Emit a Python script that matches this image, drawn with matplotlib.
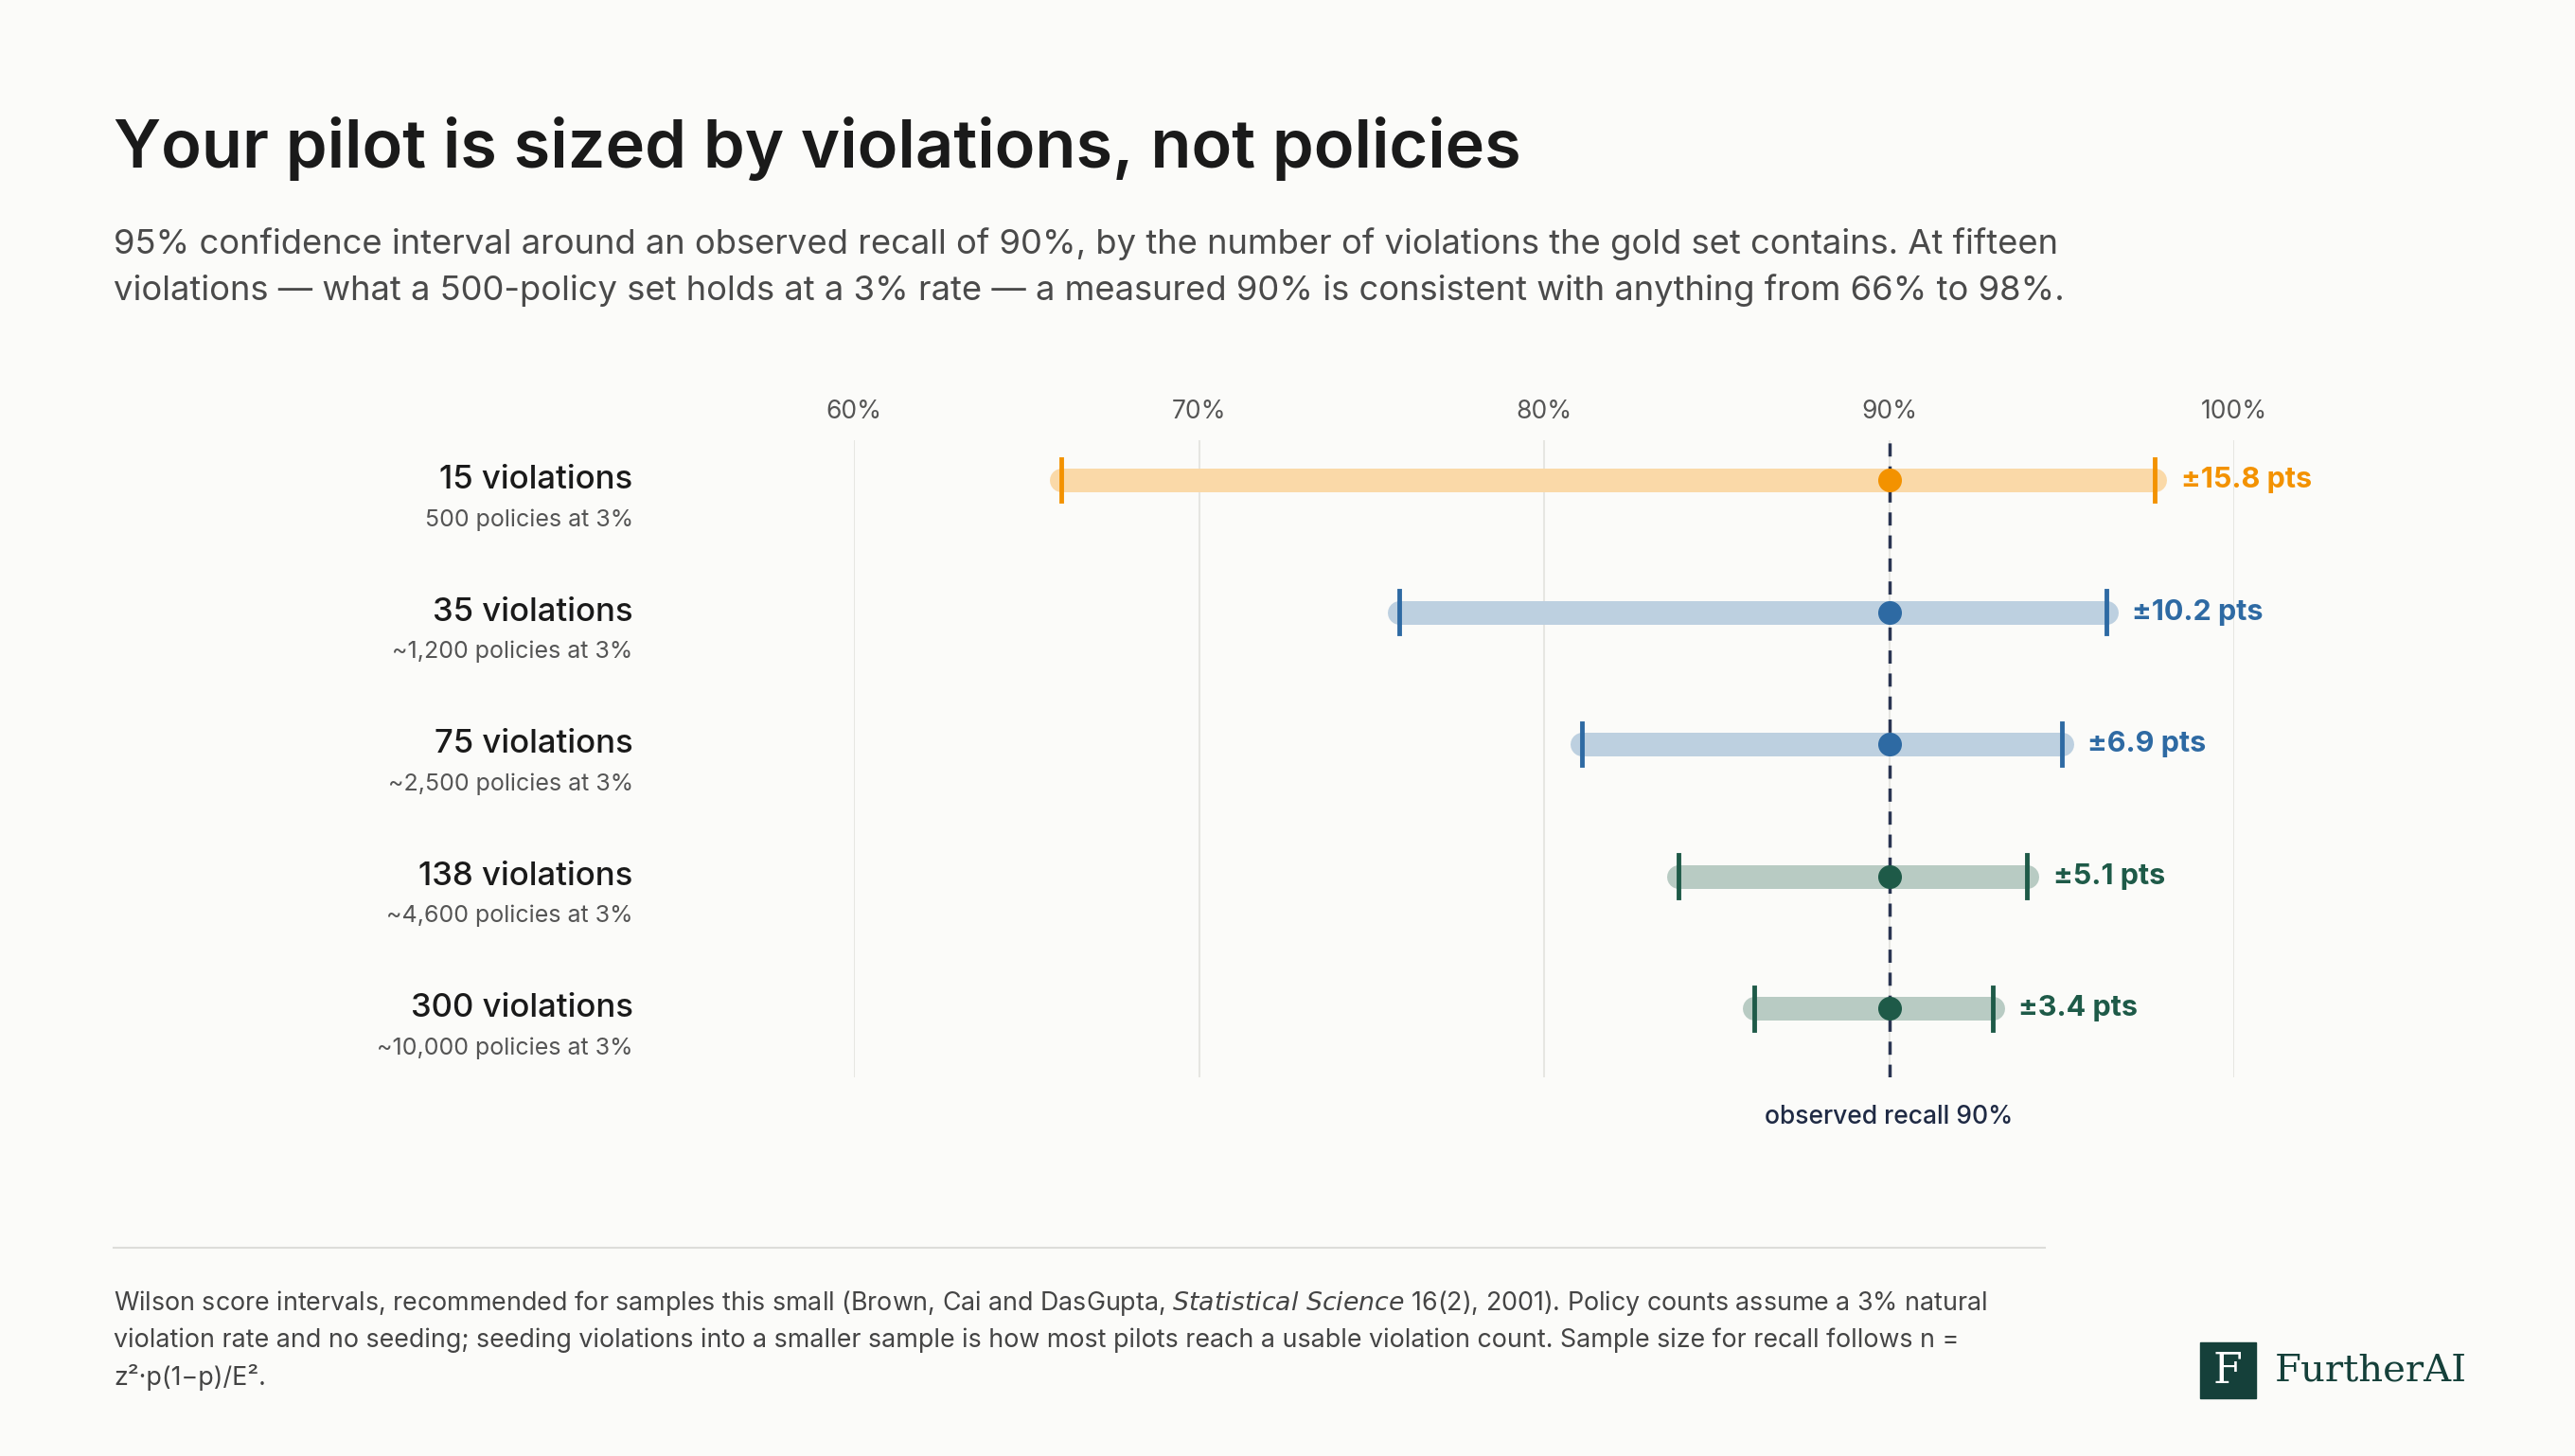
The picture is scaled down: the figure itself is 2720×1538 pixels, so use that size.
import matplotlib
matplotlib.use('Agg')
import matplotlib.pyplot as plt
from matplotlib.patches import Rectangle

# data
row_labels = ["15 violations", "35 violations", "75 violations", "138 violations", "300 violations"]
sub_labels = ["500 policies at 3%", "~1,200 policies at 3%", "~2,500 policies at 3%",
              "~4,600 policies at 3%", "~10,000 policies at 3%"]
lower = [66.0, 75.8, 81.1, 83.9, 86.1]
upper = [97.7, 96.3, 95.0, 94.0, 93.0]
observed = 90
margin_labels = ["±15.8 pts", "±10.2 pts", "±6.9 pts", "±5.1 pts", "±3.4 pts"]
ticks = [60, 70, 80, 90, 100]

BG = "#FBFBF9"
ORANGE, ORANGE_L = "#F39200", "#FAD9A8"
BLUE, BLUE_L = "#2E6AA3", "#BDD0E0"
GREEN, GREEN_L = "#1E5A48", "#B8CBC3"
dark_c = [ORANGE, BLUE, BLUE, GREEN, GREEN]
light_c = [ORANGE_L, BLUE_L, BLUE_L, GREEN_L, GREEN_L]
INK = "#1A1A1A"
GREY = "#555555"

plt.rcParams['font.family'] = ['Inter', 'DejaVu Sans']

W, H = 2720, 1538
fig = plt.figure(figsize=(W / 100, H / 100), dpi=100, facecolor=BG)

def fx(px):
    return px / W

def fy(py):
    return 1 - py / H

ax = fig.add_axes([fx(902), fy(1138), fx(2360 - 902), (1138 - 465) / H])
ax.set_facecolor(BG)
ax.set_xlim(60, 100)
ax.set_ylim(4.52, -0.3)
for s in ax.spines.values():
    s.set_visible(False)
ax.set_yticks([])
ax.set_xticks(ticks)
ax.set_xticklabels([f"{t}%" for t in ticks], fontsize=19, color=GREY)
ax.xaxis.set_ticks_position('top')
ax.tick_params(axis='x', length=0, pad=12)
for t in ticks:
    ax.axvline(t, color="#E6E6E2", lw=1.5, zorder=0)

ax.axvline(observed, color="#2A3552", lw=2.5, ls=(0, (4, 3)), zorder=4)

for i in range(len(lower)):
    ax.plot([lower[i], upper[i]], [i, i], color=light_c[i], lw=18,
            solid_capstyle='round', zorder=2)
    for v in (lower[i], upper[i]):
        ax.plot([v, v], [i - 0.16, i + 0.16], color=dark_c[i], lw=3.5, zorder=3)
    ax.plot(observed, i, 'o', color=dark_c[i], ms=17, zorder=5)
    ax.text(upper[i] + 0.75, i, margin_labels[i], color=dark_c[i], fontsize=22,
            fontweight='bold', va='center', ha='left')
    ax.text(-0.16, i, row_labels[i], transform=ax.get_yaxis_transform(),
            ha='right', va='center', fontsize=25, fontweight='medium', color=INK)
    ax.text(-0.16, i + 0.3, sub_labels[i], transform=ax.get_yaxis_transform(),
            ha='right', va='center', fontsize=18, color=GREY)
ax.text(observed, 4.82, "observed recall 90%", ha='center', va='center',
        fontsize=19, fontweight='medium', color="#1F2A44", clip_on=False)

# titles
fig.text(fx(120), fy(157), "Your pilot is sized by violations, not policies",
         fontsize=50.7, fontweight='semibold', color=INK, va='center')
fig.text(fx(120), fy(282),
         "95% confidence interval around an observed recall of 90%, by the number of violations the gold set contains. At fifteen\n"
         "violations — what a 500-policy set holds at a 3% rate — a measured 90% is consistent with anything from 66% to 98%.",
         fontsize=26.2, color="#4A4A4A", va='center', linespacing=1.5)

# footer
fig.add_artist(plt.Line2D([fx(120), fx(2160)], [fy(1318), fy(1318)], color="#DDDDDA", lw=1.5))
fig.text(fx(120), fy(1415),
         "Wilson score intervals, recommended for samples this small (Brown, Cai and DasGupta, $\\it{Statistical\\ Science}$ 16(2), 2001). Policy counts assume a 3% natural\n"
         "violation rate and no seeding; seeding violations into a smaller sample is how most pilots reach a usable violation count. Sample size for recall follows n =\n"
         "z²·p(1−p)/E².",
         fontsize=19.3, color="#444444", va='center', linespacing=1.55)

# logo
fig.add_artist(Rectangle((fx(2324), fy(1477)), fx(59), (1477 - 1418) / H,
                         color="#15403A", transform=fig.transFigure))
fig.text(fx(2353), fy(1448), "F", family='DejaVu Serif', fontsize=32, color="white",
         ha='center', va='center')
fig.text(fx(2403), fy(1448), "FurtherAI", family='DejaVu Serif', fontsize=29,
         color="#15403A", ha='left', va='center')

fig.savefig("out.png", dpi=100, facecolor=BG)
